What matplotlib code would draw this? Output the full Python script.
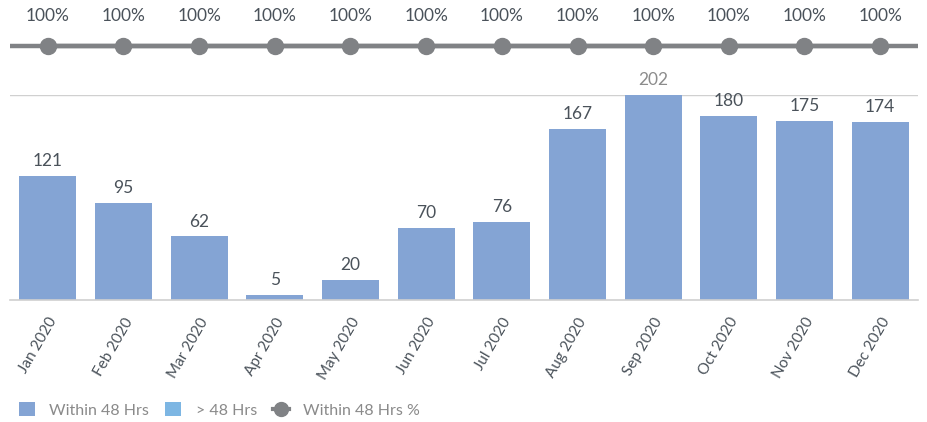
import matplotlib
matplotlib.use("Agg")
import matplotlib.pyplot as plt
from matplotlib.lines import Line2D
from matplotlib.patches import Patch
import numpy as np

plt.rcParams['font.family'] = ['Lato', 'DejaVu Sans']

months = ["Jan 2020", "Feb 2020", "Mar 2020", "Apr 2020", "May 2020", "Jun 2020",
          "Jul 2020", "Aug 2020", "Sep 2020", "Oct 2020", "Nov 2020", "Dec 2020"]
within48 = [121, 95, 62, 5, 20, 70, 76, 167, 202, 180, 175, 174]
over48 = [0, 0, 0, 0, 0, 0, 0, 0, 0, 0, 0, 0]
within48_pct = [100, 100, 100, 100, 100, 100, 100, 100, 100, 100, 100, 100]

bar_color = "#84A4D4"
over_color = "#7DB6E3"
line_color = "#808285"
label_color = "#4A525A"
light_label = "#8C8C8C"
grid_color = "#D0D0D0"

fig = plt.figure(figsize=(9.28, 4.22), dpi=100)
W, H = 928, 422

def px(x0, y0, x1, y1):
    return [x0 / W, 1 - y1 / H, (x1 - x0) / W, (y1 - y0) / H]

x = np.arange(len(months))
ymax = 200

ax = fig.add_axes(px(10, 95, 918, 300))
ax.bar(x, within48, width=0.75, color=bar_color, zorder=2)
ax.bar(x, over48, width=0.75, bottom=within48, color=over_color, zorder=2)
ax.set_xlim(-0.5, len(months) - 0.5)
ax.set_ylim(0, ymax)
ax.axhline(ymax, color=grid_color, lw=1, zorder=1)
for s in ["top", "right", "left"]:
    ax.spines[s].set_visible(False)
ax.spines["bottom"].set_color(grid_color)
ax.spines["bottom"].set_linewidth(1.2)
ax.set_yticks([])
ax.set_xticks(x)
ax.set_xticklabels(months, rotation=60, ha="right", rotation_mode="anchor",
                   fontsize=11, color=label_color)
ax.tick_params(axis="x", length=0, pad=11)
for xi, v in zip(x, within48):
    c = light_label if v > ymax else label_color
    ax.annotate(str(v), (xi, min(v, ymax)), xytext=(0, 5), textcoords="offset points",
                ha="center", va="bottom", fontsize=12.5, color=c, annotation_clip=False)

axt = fig.add_axes(px(10, 8, 918, 84))
axt.plot(x, within48_pct, color=line_color, lw=3.2, marker="o", markersize=11.5,
         solid_capstyle="butt")
axt.set_xlim(-0.5, len(months) - 0.5)
axt.set_ylim(90, 110)
axt.axis("off")
axt.plot([-0.5, len(months) - 0.5], [within48_pct[0], within48_pct[-1]], color=line_color, lw=3.2)
for xi, v in zip(x, within48_pct):
    axt.annotate(f"{v}%", (xi, v), xytext=(0, 21.5), textcoords="offset points",
                 ha="center", va="center", fontsize=12.5, color=label_color)

handles = [Patch(facecolor=bar_color, edgecolor="none"),
           Patch(facecolor=over_color, edgecolor="none"),
           Line2D([0], [0], color=line_color, lw=3, marker="o", markersize=10)]
labels = ["Within 48 Hrs", "> 48 Hrs", "Within 48 Hrs %"]
leg = fig.legend(handles, labels, loc="center left", bbox_to_anchor=(0.005, 1 - 410 / H),
                 ncol=3, frameon=False, fontsize=11.5, handlelength=1.0, handleheight=1.0,
                 columnspacing=1.0, handletextpad=0.9)
for t in leg.get_texts():
    t.set_color("#8A8A8A")

fig.savefig("out.png", dpi=100)
